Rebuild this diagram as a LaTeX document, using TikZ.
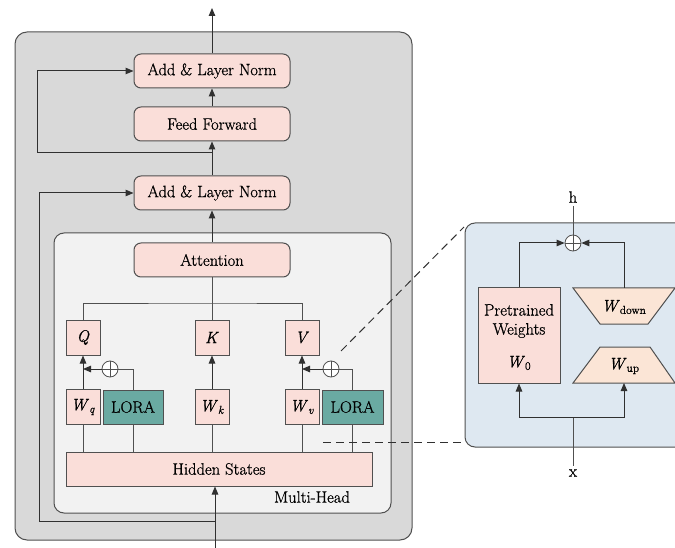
\documentclass[tikz,border=0pt]{standalone}
\usepackage{fontspec}
\setmainfont{Latin Modern Roman}[FakeBold=0.8]
\usetikzlibrary{arrows.meta,calc}
\definecolor{pinkf}{HTML}{FADED9}
\definecolor{tealf}{HTML}{6AAAA2}
\definecolor{outerg}{HTML}{D9D9D9}
\definecolor{innerg}{HTML}{F2F2F2}
\definecolor{bluef}{HTML}{DEE8F1}
\definecolor{peachf}{HTML}{FBE5D6}
\definecolor{edgec}{HTML}{505050}
\definecolor{linec}{HTML}{303030}
\begin{document}
\begin{tikzpicture}[x=1pt,y=-1pt, font=\rmfamily\fontsize{16.5}{19}\selectfont,
  box/.style={draw=edgec, line width=1pt, fill=pinkf, inner sep=0pt},
  rbox/.style={box, rounded corners=7pt, minimum width=156pt, minimum height=34pt},
  sbox/.style={box, minimum width=34pt, minimum height=35pt},
  lbox/.style={box, fill=tealf, minimum height=34pt},
  arr/.style={draw=linec, -{Triangle[length=8pt,width=6.5pt]}, line width=1pt},
  ln/.style={draw=edgec, line width=1pt},
  dsh/.style={draw=linec, dash pattern=on 8pt off 5pt, line width=1pt},
  plus/.style={circle, draw=edgec, fill=white, line width=0.8pt, minimum size=16pt, inner sep=0pt},
  trap/.style={draw=edgec, line width=1pt, fill=peachf}
]
\useasboundingbox (0,0) rectangle (675,548);
\clip (0,0) rectangle (675,548);

% containers
\node[draw=edgec, fill=outerg, rounded corners=12pt, line width=1pt,
      minimum width=397pt, minimum height=508pt, inner sep=0pt] (outer) at (213.5,286) {};
\node[draw=edgec, fill=innerg, rounded corners=10pt, line width=1pt,
      minimum width=337pt, minimum height=280pt, inner sep=0pt] (inner) at (222.5,373) {};
\node[draw=edgec, fill=bluef, rounded corners=10pt, line width=1pt,
      minimum width=240pt, minimum height=224pt, inner sep=0pt] (rpanel) at (585,335) {};

% transformer blocks
\node[rbox] (an1) at (212,71) {Add \& Layer Norm};
\node[rbox] (ff) at (212,124) {Feed Forward};
\node[rbox] (an2) at (212,193) {Add \& Layer Norm};
\node[rbox] (att) at (212,260) {Attention};

\node[sbox] (Q) at (83,337.5) {\textit{Q}};
\node[sbox] (K) at (212,337.5) {\textit{K}};
\node[sbox] (V) at (302,337.5) {\textit{V}};

\node[sbox] (Wq) at (83,407) {\textit{W}\textsubscript{\textit{q}}};
\node[lbox, minimum width=60pt] (lora1) at (133,407) {LORA};
\node[sbox] (Wk) at (212,407) {\textit{W}\textsubscript{\textit{k}}};
\node[sbox] (Wv) at (302,407) {\textit{W}\textsubscript{\textit{v}}};
\node[lbox, minimum width=61pt] (lora2) at (352.5,407) {LORA};

\node[box, minimum width=306pt, minimum height=34pt] (hs) at (219,469) {Hidden States};
\node (mh) at (312,497) {Multi-Head};

\node[plus] (p1) at (110,369) {};
\draw[edgec, line width=0.8pt] (p1.north) -- (p1.south) (p1.west) -- (p1.east);
\node[plus] (p2) at (331,369) {};
\draw[edgec, line width=0.8pt] (p2.north) -- (p2.south) (p2.west) -- (p2.east);

% coordinates
\coordinate (top) at (212,8);
\coordinate (r1) at (212,153);
\coordinate (r1a) at (37,153);
\coordinate (in) at (215,548);
\coordinate (r2) at (215,521);
\coordinate (r2a) at (39,521);
\coordinate (bus) at (212,303);

% main connectors
\draw[arr] (an1.north) -- (top);
\draw[arr] (ff.north) -- (an1.south);
\draw[arr] (an2.north) -- (ff.south);
\draw[arr] (att.north) -- (an2.south);
\draw[arr] (r1) -- (r1a) |- (an1.west);
\draw[arr] (in) -- (in |- hs.south);
\draw[arr] (r2) -- (r2a) |- (an2.west);

\draw[ln] (att.south) -- (K.north);
\draw[ln] (Q.north) |- (bus) -| (V.north);

\draw[arr] (Wq.north) -- (Q.south);
\draw[arr] (Wk.north) -- (K.south);
\draw[arr] (Wv.north) -- (V.south);

\draw[ln] (hs.north -| Wq.south) -- (Wq.south);
\draw[ln] (hs.north -| lora1.south) -- (lora1.south);
\draw[ln] (hs.north -| Wk.south) -- (Wk.south);
\draw[ln] (hs.north -| Wv.south) -- (Wv.south);
\draw[ln] (hs.north -| lora2.south) -- (lora2.south);

\draw[ln] (lora1.north) |- (p1.east);
\draw[arr] (p1.west) -- (p1.west -| Q.south);
\draw[ln] (lora2.north) |- (p2.east);
\draw[arr] (p2.west) -- (p2.west -| V.south);

% dashed zoom lines
\coordinate (dA) at (341,351);
\coordinate (dB) at (464,227);
\coordinate (dC) at (323,442);
\coordinate (dD) at (465,442);
\draw[dsh] (dA) -- (dB);
\draw[dsh] (dC) -- (dD);

% right panel
\node (h) at (573,197) {h};
\node[plus] (pr) at (573,243) {};
\draw[edgec, line width=0.8pt] (pr.north) -- (pr.south) (pr.west) -- (pr.east);
\draw[ln] (h.south) -- (pr.north);

\node[box, minimum width=82pt, minimum height=95pt] (pw) at (519,335.5) {};
\node[align=center] (pwt) at (519,321) {Pretrained\\Weights};
\node (w0) at (519,363) {\textit{W}\textsubscript{0}};

\draw[trap] (573,288) -- (675,288) -- (648,324) -- (600,324) -- cycle;
\node (wd) at (624,307) {\textit{W}\textsubscript{down}};
\draw[trap] (600,347) -- (650,347) -- (675,383) -- (573,383) -- cycle;
\node (wu) at (624,366) {\textit{W}\textsubscript{up}};

\coordinate (wdtop) at (624,288);
\coordinate (wubot) at (624,383);
\coordinate (split) at (573,417);
\node (x) at (573,473) {x};

\draw[arr] (pw.north) |- (pr.west);
\draw[arr] (wdtop) |- (pr.east);
\draw[ln] (x.north) -- (split);
\draw[arr] (split) -| (pw.south);
\draw[arr] (split) -| (wubot);
\end{tikzpicture}
\end{document}
